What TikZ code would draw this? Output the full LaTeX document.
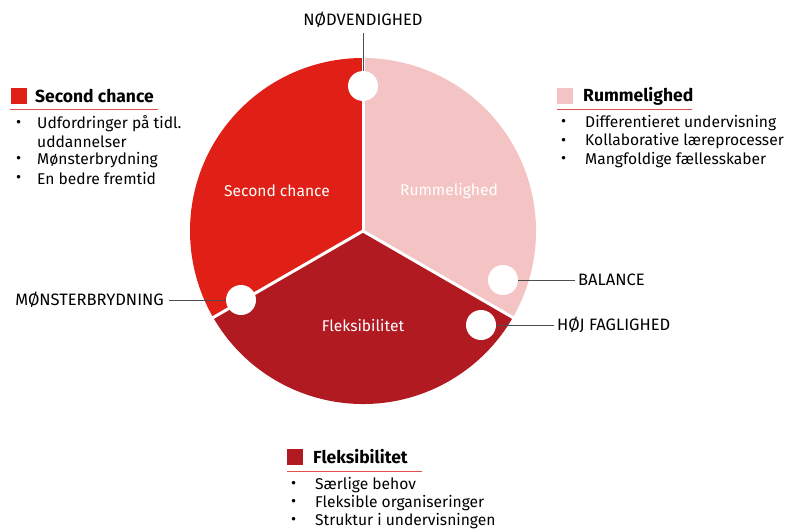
\documentclass[tikz,border=0pt]{standalone}
\usepackage{fontspec}
\setmainfont{Fira Sans}
\definecolor{chancered}{HTML}{E01F17}
\definecolor{rumpink}{HTML}{F4C4C4}
\definecolor{fleksred}{HTML}{B21A22}
\definecolor{linegray}{HTML}{4D4D4D}
\definecolor{rulered}{HTML}{E3504F}

\begin{document}
\begin{tikzpicture}[
  x=1pt,
  y=1pt,
  slicetext/.style={text=white, font=\fontsize{15.6}{18}\selectfont},
  marker/.style={circle, fill=white, minimum size=30pt, inner sep=0pt},
  caplabel/.style={font=\fontsize{16.5}{18}\selectfont, inner sep=1pt},
  connector/.style={draw=linegray, line width=0.9pt},
  legendbox/.style={minimum size=16pt, inner sep=0pt},
  legendhead/.style={anchor=west, inner sep=0pt, font=\bfseries\fontsize{17.5}{20}\selectfont},
  legenditem/.style={anchor=west, inner sep=0pt, font=\fontsize{15.6}{18}\selectfont},
  legendrule/.style={draw=rulered, line width=0.8pt},
]
\useasboundingbox (0,0) rectangle (791,531);

% pie
\coordinate (centre) at (363,300);
\fill[chancered] (centre) -- +(90:173) arc[start angle=90, end angle=210, radius=173] -- cycle;
\fill[fleksred] (centre) -- +(210:173) arc[start angle=210, end angle=330, radius=173] -- cycle;
\fill[rumpink] (centre) -- +(330:173) arc[start angle=330, end angle=450, radius=173] -- cycle;
\foreach \ang in {90,210,330}
  \draw[white, line width=3pt] (centre) -- +(\ang:175);

\node[slicetext] (chance text) at (277,340) {Second chance};
\node[slicetext] (rum text) at (449,340) {Rummelighed};
\node[slicetext] (fleks text) at (363,205) {Fleksibilitet};

% markers and labels
\node[caplabel] (nod label) at (363,511) {NØDVENDIGHED};
\node[caplabel, anchor=east] (msb label) at (165,231) {MØNSTERBRYDNING};
\node[caplabel, anchor=west] (bal label) at (577,251) {BALANCE};
\node[caplabel, anchor=west] (hoj label) at (556,206) {HØJ FAGLIGHED};

\node[marker] (nod mark) at (363,445) {};
\node[marker] (msb mark) at (241,231) {};
\node[marker] (bal mark) at (503,251) {};
\node[marker] (hoj mark) at (481,206) {};

\draw[connector] (nod label.south) ++(0,-4) coordinate (nod end) -- (nod mark);
\draw[connector] (msb label.east) ++(4,0) coordinate (msb end) -- (msb mark);
\draw[connector] (bal label.west) ++(-2,0) coordinate (bal end) -- (bal mark);
\draw[connector] (hoj label.west) ++(-2,0) coordinate (hoj end) -- (hoj mark);

% legend: Second chance
\node[legendbox, fill=chancered] (chance box) at (19,435) {};
\node[legendhead] (chance head) at (35,435) {Second chance};
\draw[legendrule] (10,422) coordinate (chance rule a) -- (158,422) coordinate (chance rule b);
\foreach \y/\txt [count=\i] in {407/Udfordringer på tidl., 389/uddannelser, 371/Mønsterbrydning, 352/En bedre fremtid}
  \node[legenditem] (chance item \i) at (37,\y) {\txt};
\foreach \y [count=\i] in {407,371,352}
  \node[legenditem] (chance bullet \i) at (16,\y) {\textbullet};

% legend: Rummelighed
\node[legendbox, fill=rumpink] (rum box) at (565,435) {};
\node[legendhead] (rum head) at (583,435) {Rummelighed};
\draw[legendrule] (557,422) coordinate (rum rule a) -- (692,422) coordinate (rum rule b);
\foreach \txt [count=\i] in {Differentieret undervisning, Kollaborative læreprocesser, Mangfoldige fællesskaber}{
  \node[legenditem] (rum item \i) at (585,426.5-18.5*\i) {\txt};
  \node[legenditem] (rum bullet \i) at (561,426.5-18.5*\i) {\textbullet};
}

% legend: Fleksibilitet
\node[legendbox, fill=fleksred] (fleks box) at (295,74) {};
\node[legendhead] (fleks head) at (313,74) {Fleksibilitet};
\draw[legendrule] (287,60) coordinate (fleks rule a) -- (422,60) coordinate (fleks rule b);
\foreach \txt [count=\i] in {Særlige behov, Fleksible organiseringer, Struktur i undervisningen}{
  \node[legenditem] (fleks item \i) at (315,64-18*\i) {\txt};
  \node[legenditem] (fleks bullet \i) at (291,64-18*\i) {\textbullet};
}
\end{tikzpicture}
\end{document}
